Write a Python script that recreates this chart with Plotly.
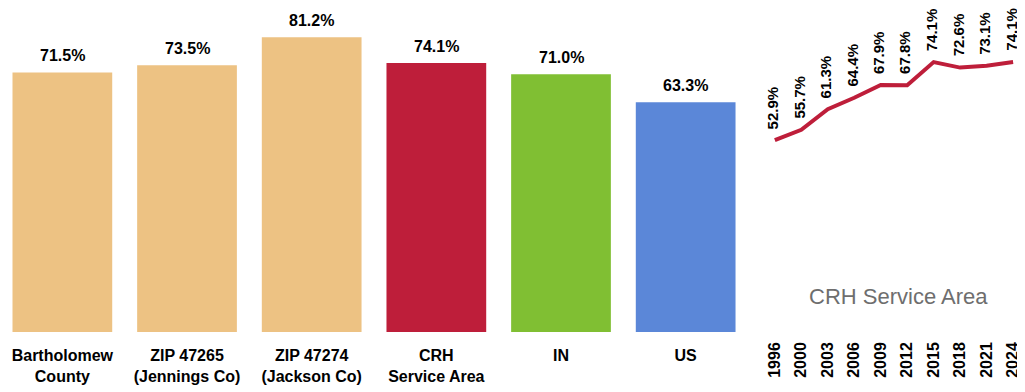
import plotly.graph_objects as go

# Bar chart data
categories = ["Bartholomew<br>County", "ZIP 47265<br>(Jennings Co)", "ZIP 47274<br>(Jackson Co)",
              "CRH<br>Service Area", "IN", "US"]
bar_values = [71.5, 73.5, 81.2, 74.1, 71.0, 63.3]
bar_colors = ["#EDC283", "#EDC283", "#EDC283", "#BE1E3A", "#80BF33", "#5B87D8"]

# Trend data
years = ["1996", "2000", "2003", "2006", "2009", "2012", "2015", "2018", "2021", "2024"]
trend_values = [52.9, 55.7, 61.3, 64.4, 67.9, 67.8, 74.1, 72.6, 73.1, 74.1]

FONT = "Liberation Sans Narrow, Arial Narrow, Liberation Sans, Arial, sans-serif"
# page body has an 8px margin, so the figure is a bit smaller than the window
W, H = 1017, 384

fig = go.Figure()

bar_x = list(range(len(categories)))
fig.add_trace(
    go.Bar(
        x=bar_x,
        y=bar_values,
        marker=dict(color=bar_colors, line=dict(width=0)),
        width=0.8,
        xaxis="x", yaxis="y"))

# value labels above bars
for i, v in zip(bar_x, bar_values):
    fig.add_annotation(
        x=i, y=v, xref="x", yref="y",
        text=f"<b>{v:.1f}%</b>",
        showarrow=False,
        xanchor="center", yanchor="bottom",
        yshift=6,
        font=dict(family=FONT, size=16, color="black"))

idx = list(range(len(years)))
fig.add_trace(
    go.Scatter(
        x=idx,
        y=trend_values,
        mode="lines",
        line=dict(color="#BE1E3A", width=4),
        xaxis="x2", yaxis="y2"))

# rotated value labels above the trend line
for i, v in zip(idx, trend_values):
    fig.add_annotation(
        x=i, y=v, xref="x2", yref="y2",
        text=f"<b>{v:.1f}%</b>",
        textangle=-90,
        showarrow=False,
        xanchor="center", yanchor="bottom",
        yshift=9, xshift=-2,
        font=dict(family=FONT, size=15, color="black"))

fig.add_annotation(
    x=890 / W, y=1 - 288 / 324, xref="paper", yref="paper",
    xanchor="center", yanchor="middle",
    text="CRH Service Area", showarrow=False,
    font=dict(family="Liberation Sans, Arial, sans-serif", size=22, color="#6E6E6E"))

fig.update_layout(
    width=W, height=H,
    margin=dict(l=0, r=0, t=0, b=60),
    plot_bgcolor="white", paper_bgcolor="white",
    showlegend=False,
    xaxis=dict(
        domain=[0, 740 / W],
        range=[-0.436, len(categories) - 0.5],
        tickvals=bar_x,
        ticktext=[f"<b>{c}</b>" for c in categories],
        tickfont=dict(family=FONT, size=16, color="black"),
        ticklabelstandoff=12,
        showgrid=False, zeroline=False, showline=False, ticks=""),
    yaxis=dict(
        range=[0, 89.26],
        visible=False, showgrid=False),
    xaxis2=dict(
        domain=[752 / W, 1.0],
        anchor="y2",
        range=[-0.56, 9.45],
        tickvals=idx,
        ticktext=[f"<b>{y}</b>" for y in years],
        tickangle=-90,
        tickfont=dict(family=FONT, size=16, color="black"),
        ticklabelstandoff=6,
        showgrid=False, zeroline=False, showline=False, ticks=""),
    yaxis2=dict(
        domain=[0, 1],
        anchor="x2",
        range=[0.73, 88.8],
        visible=False, showgrid=False),
)

fig.write_html("out.html")
